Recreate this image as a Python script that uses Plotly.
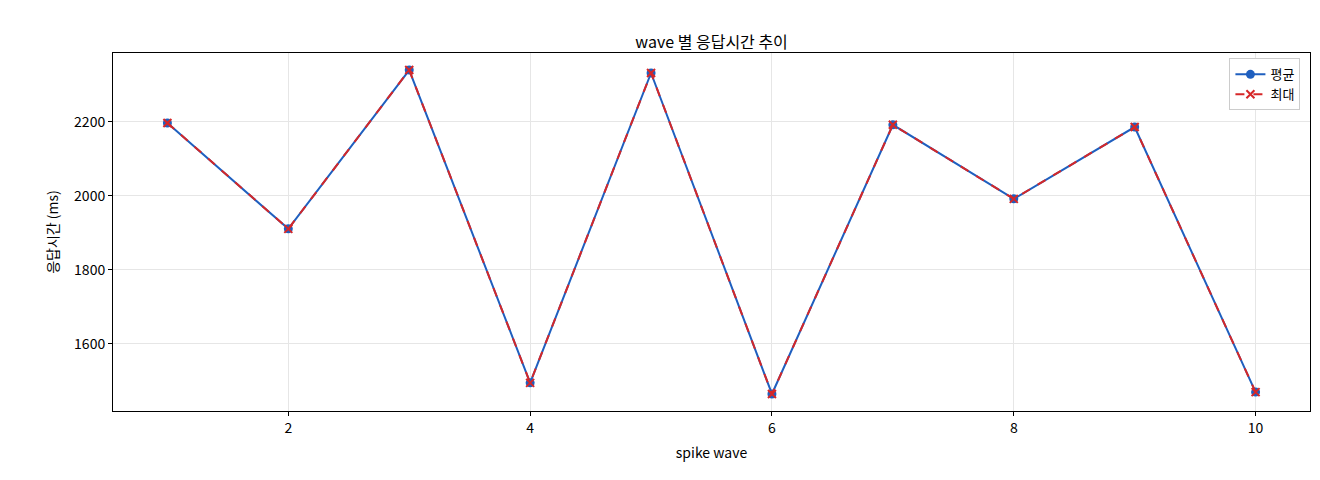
import plotly.graph_objects as go

# values
waves = [1, 2, 3, 4, 5, 6, 7, 8, 9, 10]
avg_ms = [2197, 1911, 2340, 1495, 2332, 1465, 2192, 1992, 2186, 1470]
max_ms = [2197, 1911, 2340, 1495, 2332, 1465, 2192, 1992, 2186, 1470]

fig = go.Figure()
fig.add_trace(go.Scatter(x=waves, y=avg_ms, name="평균", mode="lines+markers",
                         line=dict(color="#1f5fbf", width=2),
                         marker=dict(symbol="circle", size=9, color="#1f5fbf")))
fig.add_trace(go.Scatter(x=waves, y=max_ms, name="최대", mode="lines+markers",
                         line=dict(color="#d62728", width=2, dash="dash"),
                         marker=dict(symbol="x-thin", size=8, line=dict(color="#d62728", width=2))))

axis_style = dict(showline=True, linecolor="black", linewidth=1, mirror=True,
                  showgrid=True, gridcolor="#e6e6e6", ticks="outside", ticklen=4,
                  tickcolor="black", zeroline=False, automargin=False,
                  tickfont=dict(size=14))

fig.update_layout(
    width=1320, height=480,
    margin=dict(l=105, r=18, t=45, b=77),
    paper_bgcolor="white", plot_bgcolor="white",
    font=dict(family="Noto Sans CJK KR, DejaVu Sans", size=13, color="black"),
    title=dict(text="wave 별 응답시간 추이", x=0.533, xanchor="center", y=0.94,
               font=dict(size=16)),
    xaxis=dict(title=dict(text="spike wave", font=dict(size=14), standoff=12),
               range=[0.55, 10.45], tickvals=[2, 4, 6, 8, 10], **axis_style),
    yaxis=dict(title=dict(text="응답시간 (ms)", font=dict(size=14), standoff=12),
               range=[1419, 2386], tickvals=[1600, 1800, 2000, 2200], **axis_style),
    legend=dict(x=0.992, y=0.985, xanchor="right", yanchor="top",
                bordercolor="#cccccc", borderwidth=1, bgcolor="white",
                font=dict(size=13)),
)

fig.write_html("out.html")
